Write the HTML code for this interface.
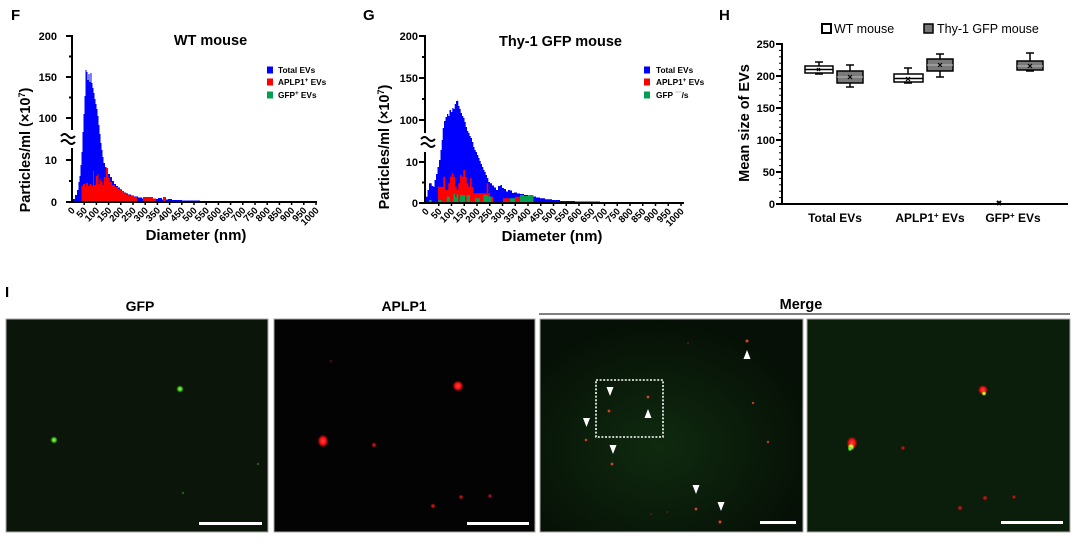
<!DOCTYPE html>
<html><head><meta charset="utf-8"><style>
html,body{margin:0;padding:0;background:#fff;}
svg{display:block;}
</style></head><body>
<svg width="1080" height="545" viewBox="0 0 1080 545" xmlns="http://www.w3.org/2000/svg" font-family="'Liberation Sans', Arial, sans-serif" font-weight="bold">
<defs>
<radialGradient id="rg"><stop offset="0" stop-color="#ff4040"/><stop offset="0.55" stop-color="#ff1010" stop-opacity="0.95"/><stop offset="1" stop-color="#ff0000" stop-opacity="0"/></radialGradient>
<radialGradient id="rgd"><stop offset="0" stop-color="#e02020"/><stop offset="0.5" stop-color="#c01010" stop-opacity="0.8"/><stop offset="1" stop-color="#a00000" stop-opacity="0"/></radialGradient>
<radialGradient id="gg"><stop offset="0" stop-color="#b0ff70"/><stop offset="0.5" stop-color="#50e020" stop-opacity="0.85"/><stop offset="1" stop-color="#20c000" stop-opacity="0"/></radialGradient>
<radialGradient id="og"><stop offset="0" stop-color="#ff8040"/><stop offset="0.5" stop-color="#e04020" stop-opacity="0.8"/><stop offset="1" stop-color="#c02000" stop-opacity="0"/></radialGradient>
<radialGradient id="yg"><stop offset="0" stop-color="#ffff60"/><stop offset="0.6" stop-color="#c0ff30" stop-opacity="0.8"/><stop offset="1" stop-color="#80ff00" stop-opacity="0"/></radialGradient>
<radialGradient id="p3c" cx="0.45" cy="0.6" r="0.6"><stop offset="0" stop-color="#0f2a0f"/><stop offset="1" stop-color="#061006"/></radialGradient>
</defs>

<!-- ================= PANEL F ================= -->
<text x="11" y="20" font-size="15">F</text>
<text x="210.5" y="45" font-size="14.5" text-anchor="middle">WT mouse</text>
<!-- histogram -->
<path fill="#0000ff" d="M73,202 V199 H75 V195 H77 V190 H78.5 V182 H79.5 V176 H80.5 V165 H81.5 V152 H82.5 V132 H83.5 V114 H84.5 V96 H85.5 V70 H86.5 V72 H87.5 V80 H88.5 V74 H89.5 V82 H90.5 V73 H91.5 V83 H92.5 V88 H93.5 V93 H94.5 V99 H95.5 V104 H96.5 V109 H97.5 V116 H98.5 V125 H99.5 V134 H100.5 V143 H101.5 V150 H102.5 V157 H103.5 V163 H105 V167 H106.5 V170 H108 V174 H110 V177 H112 V181 H114 V184 H116 V186 H118 V187.5 H120 V189.5 H122 V191 H124 V192.5 H126 V193.5 H128 V194.5 H131 V195.5 H134 V196.5 H138 V197.5 H142 V198.5 H146 V197 H150 V198.5 H154 V199 H158 V198 H162 V199.5 H168 V199 H172 V200 H182 V200.5 H200 V201 H235 V202 Z"/>
<path fill="#ff0000" d="M81.5,202 V186 H83 V184 H85 V187 H86 V183 H88 V186 H89.5 V184 H91.5 V186 H93 V171 H94 V185 H96 V176 H97.5 V174 H98.5 V184 H99.5 V180 H101 V182 H102.5 V185 H104 V177 H105.5 V181 H106 V168 H108 V178 H109.5 V182 H112 V185 H115 V187 H118 V189 H121 V191 H124 V193 H127 V195 H130 V196 H134 V197 H137 V202 Z M143,202 V197 H153 V198.5 H156 V202 Z M163,202 V197 H166 V202 Z"/>
<!-- axes -->
<g stroke="#000" stroke-width="2" fill="none">
<line x1="72" y1="35" x2="72" y2="130"/>
<line x1="72" y1="148" x2="72" y2="203"/>
<line x1="71" y1="202" x2="317" y2="202"/>
<line x1="66" y1="36" x2="72" y2="36"/>
<line x1="66" y1="77" x2="72" y2="77"/>
<line x1="66" y1="118" x2="72" y2="118"/>
<line x1="66" y1="160" x2="72" y2="160"/>
<line x1="66" y1="202" x2="72" y2="202"/>
<line x1="69" y1="56.5" x2="72" y2="56.5"/>
<line x1="69" y1="97.5" x2="72" y2="97.5"/>
<line x1="69" y1="181" x2="72" y2="181"/>
<path d="M61,136 q3.5,-4 7,0 t7,0"/>
<path d="M61,142 q3.5,-4 7,0 t7,0"/>
</g>
<g stroke="#000" stroke-width="1.5">
<line x1="84.2" y1="202" x2="84.2" y2="205"/><line x1="96.4" y1="202" x2="96.4" y2="205"/><line x1="108.6" y1="202" x2="108.6" y2="205"/><line x1="120.8" y1="202" x2="120.8" y2="205"/><line x1="133" y1="202" x2="133" y2="205"/><line x1="145.2" y1="202" x2="145.2" y2="205"/><line x1="157.4" y1="202" x2="157.4" y2="205"/><line x1="169.6" y1="202" x2="169.6" y2="205"/><line x1="181.8" y1="202" x2="181.8" y2="205"/><line x1="194" y1="202" x2="194" y2="205"/><line x1="206.2" y1="202" x2="206.2" y2="205"/><line x1="218.4" y1="202" x2="218.4" y2="205"/><line x1="230.6" y1="202" x2="230.6" y2="205"/><line x1="242.8" y1="202" x2="242.8" y2="205"/><line x1="255" y1="202" x2="255" y2="205"/><line x1="267.2" y1="202" x2="267.2" y2="205"/><line x1="279.4" y1="202" x2="279.4" y2="205"/><line x1="291.6" y1="202" x2="291.6" y2="205"/><line x1="303.8" y1="202" x2="303.8" y2="205"/><line x1="316" y1="202" x2="316" y2="205"/>
</g>
<g font-size="11" text-anchor="end">
<text x="57" y="40">200</text><text x="57" y="81">150</text><text x="57" y="122">100</text><text x="57" y="164">10</text><text x="57" y="206">0</text>
</g>
<g font-size="9.5" text-anchor="end">
<text transform="rotate(-45 75.5 211)" x="75.5" y="211">0</text>
<text transform="rotate(-45 87.7 211)" x="87.7" y="211">50</text>
<text transform="rotate(-45 99.9 211)" x="99.9" y="211">100</text>
<text transform="rotate(-45 112.1 211)" x="112.1" y="211">150</text>
<text transform="rotate(-45 124.3 211)" x="124.3" y="211">200</text>
<text transform="rotate(-45 136.5 211)" x="136.5" y="211">250</text>
<text transform="rotate(-45 148.7 211)" x="148.7" y="211">300</text>
<text transform="rotate(-45 160.9 211)" x="160.9" y="211">350</text>
<text transform="rotate(-45 173.1 211)" x="173.1" y="211">400</text>
<text transform="rotate(-45 185.3 211)" x="185.3" y="211">450</text>
<text transform="rotate(-45 197.5 211)" x="197.5" y="211">500</text>
<text transform="rotate(-45 209.7 211)" x="209.7" y="211">550</text>
<text transform="rotate(-45 221.9 211)" x="221.9" y="211">600</text>
<text transform="rotate(-45 234.1 211)" x="234.1" y="211">650</text>
<text transform="rotate(-45 246.3 211)" x="246.3" y="211">700</text>
<text transform="rotate(-45 258.5 211)" x="258.5" y="211">750</text>
<text transform="rotate(-45 270.7 211)" x="270.7" y="211">800</text>
<text transform="rotate(-45 282.9 211)" x="282.9" y="211">850</text>
<text transform="rotate(-45 295.1 211)" x="295.1" y="211">900</text>
<text transform="rotate(-45 307.3 211)" x="307.3" y="211">950</text>
<text transform="rotate(-45 319.5 211)" x="319.5" y="211">1000</text>
</g>
<text x="196" y="240" font-size="15" text-anchor="middle">Diameter (nm)</text>
<text transform="rotate(-90 30 150)" x="30" y="150" font-size="14.5" text-anchor="middle">Particles/ml (×10<tspan font-size="9" dy="-5">7</tspan><tspan dy="5">)</tspan></text>
<!-- legend F -->
<rect x="267" y="66.5" width="6" height="7" fill="#0000ff"/>
<rect x="267" y="78.5" width="6" height="7" fill="#ff0000"/>
<rect x="267" y="91.5" width="6" height="7" fill="#00a050"/>
<g font-size="8.3">
<text x="278" y="73">Total EVs</text>
<text x="278" y="85">APLP1<tspan font-size="6" dy="-3">+</tspan><tspan dy="3"> EVs</tspan></text>
<text x="278" y="98">GFP<tspan font-size="6" dy="-3">+</tspan><tspan dy="3"> EVs</tspan></text>
</g>

<!-- ================= PANEL G ================= -->
<text x="363" y="20" font-size="15">G</text>
<text x="560.5" y="46" font-size="14.5" text-anchor="middle">Thy-1 GFP mouse</text>
<path fill="#0000ff" d="M426,203 V196.7 H427.5 V190 H429 V183.3 H431.7 V186 H433.3 V186.7 H434.5 V180 H436 V174 H437.5 V167 H439 V160 H440.5 V150 H441.7 V140 H442.7 V128 H444 V121 H445.5 V117 H447 V114 H448.3 V116 H449.5 V110 H451 V112 H452.3 V108 H453.5 V109 H454.7 V104 H456 V101 H457.2 V100.7 H458.3 V106 H459.5 V109 H460.7 V113 H462 V116 H463.3 V118 H464.5 V122 H465.7 V127 H467 V131 H468.3 V133 H469.5 V136 H470.7 V138 H472 V142 H473.3 V147 H474.5 V150 H475.7 V152 H477 V155 H478.3 V158 H479.5 V161 H480.7 V164 H482 V167 H483.3 V170 H484.5 V172 H485.7 V175 H487 V178 H488.3 V182 H490 V183.3 H492 V185.5 H494 V187.5 H496 V190 H498 V186 H500.5 V185 H502 V188 H504 V189 H506 V191.5 H508 V190 H510 V190.5 H512 V193 H514 V192.5 H517 V193.5 H520 V194 H524 V195 H528 V195.5 H532 V196.5 H536 V197.5 H540 V198.3 H545 V199.3 H552 V200 H560 V201 H575 V201.5 H600 V202 H610 V203 Z"/>
<path fill="#ff0000" d="M438,203 V186.7 H443.3 V176.7 H445 V190 H448.3 V183.3 H450 V176.7 H451.7 V173.3 H453.3 V176.7 H455 V186.7 H456.7 V190 H458.3 V183.3 H460 V175 H461.7 V176.7 H463.3 V170 H465 V176.7 H466.7 V183.3 H468.3 V186.7 H470 V178.3 H471.7 V186.7 H473.3 V193.3 H480 V193.3 H486.7 V183.3 H488.3 V193.3 H490 V196.7 H493.3 V203 Z M503,203 V198.3 H510 V203 Z M515,203 V196.7 H520 V203 Z M526.7,203 V198.3 H531.7 V203 Z"/>
<path fill="#00a050" d="M429,203 V200 H431.7 V203 Z M438.3,203 V200 H441.7 V203 Z M446.7,203 V196.7 H450 V203 Z M453.3,203 V194 H455 V197 H456.7 V194 H458.3 V203 Z M460,203 V195 H465 V203 Z M466.7,203 V195 H470 V203 Z M475,203 V198.3 H480 V203 Z M483.3,203 V195 H488.3 V196.5 H491.7 V203 Z M510,203 V198.3 H515 V203 Z M520,203 V195 H524 V196 H529 V195 H533.3 V203 Z"/>
<g stroke="#000" stroke-width="2" fill="none">
<line x1="425" y1="35" x2="425" y2="133"/>
<line x1="425" y1="152" x2="425" y2="204"/>
<line x1="424" y1="203" x2="684" y2="203"/>
<line x1="419" y1="36" x2="425" y2="36"/>
<line x1="419" y1="78" x2="425" y2="78"/>
<line x1="419" y1="120" x2="425" y2="120"/>
<line x1="419" y1="162" x2="425" y2="162"/>
<line x1="419" y1="203" x2="425" y2="203"/>
<line x1="422" y1="57" x2="425" y2="57"/>
<line x1="422" y1="99" x2="425" y2="99"/>
<line x1="422" y1="182.5" x2="425" y2="182.5"/>
<path d="M421,139 q3.5,-4 7,0 t7,0"/>
<path d="M421,145 q3.5,-4 7,0 t7,0"/>
</g>
<g stroke="#000" stroke-width="1.5">
<line x1="438.75" y1="203" x2="438.75" y2="206"/><line x1="451.5" y1="203" x2="451.5" y2="206"/><line x1="464.25" y1="203" x2="464.25" y2="206"/><line x1="477" y1="203" x2="477" y2="206"/><line x1="489.75" y1="203" x2="489.75" y2="206"/><line x1="502.5" y1="203" x2="502.5" y2="206"/><line x1="515.25" y1="203" x2="515.25" y2="206"/><line x1="528" y1="203" x2="528" y2="206"/><line x1="540.75" y1="203" x2="540.75" y2="206"/><line x1="553.5" y1="203" x2="553.5" y2="206"/><line x1="566.25" y1="203" x2="566.25" y2="206"/><line x1="579" y1="203" x2="579" y2="206"/><line x1="591.75" y1="203" x2="591.75" y2="206"/><line x1="604.5" y1="203" x2="604.5" y2="206"/><line x1="617.25" y1="203" x2="617.25" y2="206"/><line x1="630" y1="203" x2="630" y2="206"/><line x1="642.75" y1="203" x2="642.75" y2="206"/><line x1="655.5" y1="203" x2="655.5" y2="206"/><line x1="668.25" y1="203" x2="668.25" y2="206"/><line x1="681" y1="203" x2="681" y2="206"/>
</g>
<g font-size="11" text-anchor="end">
<text x="418" y="40">200</text><text x="418" y="82">150</text><text x="418" y="124">100</text><text x="418" y="166">10</text><text x="418" y="207">0</text>
</g>
<g font-size="9.5" text-anchor="end">
<text transform="rotate(-45 429.5 212)" x="429.5" y="212">0</text>
<text transform="rotate(-45 442.25 212)" x="442.25" y="212">50</text>
<text transform="rotate(-45 455 212)" x="455" y="212">100</text>
<text transform="rotate(-45 467.75 212)" x="467.75" y="212">150</text>
<text transform="rotate(-45 480.5 212)" x="480.5" y="212">200</text>
<text transform="rotate(-45 493.25 212)" x="493.25" y="212">250</text>
<text transform="rotate(-45 506 212)" x="506" y="212">300</text>
<text transform="rotate(-45 518.75 212)" x="518.75" y="212">350</text>
<text transform="rotate(-45 531.5 212)" x="531.5" y="212">400</text>
<text transform="rotate(-45 544.25 212)" x="544.25" y="212">450</text>
<text transform="rotate(-45 557 212)" x="557" y="212">500</text>
<text transform="rotate(-45 569.75 212)" x="569.75" y="212">550</text>
<text transform="rotate(-45 582.5 212)" x="582.5" y="212">600</text>
<text transform="rotate(-45 595.25 212)" x="595.25" y="212">650</text>
<text transform="rotate(-45 608 212)" x="608" y="212">700</text>
<text transform="rotate(-45 620.75 212)" x="620.75" y="212">750</text>
<text transform="rotate(-45 633.5 212)" x="633.5" y="212">800</text>
<text transform="rotate(-45 646.25 212)" x="646.25" y="212">850</text>
<text transform="rotate(-45 659 212)" x="659" y="212">900</text>
<text transform="rotate(-45 671.75 212)" x="671.75" y="212">950</text>
<text transform="rotate(-45 684.5 212)" x="684.5" y="212">1000</text>
</g>
<text x="552" y="241" font-size="15" text-anchor="middle">Diameter (nm)</text>
<text transform="rotate(-90 389 147)" x="389" y="147" font-size="14.5" text-anchor="middle">Particles/ml (×10<tspan font-size="9" dy="-5">7</tspan><tspan dy="5">)</tspan></text>
<rect x="644" y="66.5" width="6" height="7" fill="#0000ff"/>
<rect x="644" y="78.5" width="6" height="7" fill="#ff0000"/>
<rect x="644" y="91.5" width="6" height="7" fill="#00a050"/>
<g font-size="8.3">
<text x="656" y="73">Total EVs</text>
<text x="656" y="85">APLP1<tspan font-size="6" dy="-3">+</tspan><tspan dy="3"> EVs</tspan></text>
<text x="656" y="98">GFP <tspan fill="#777" font-size="6" dy="-3">⁻⁻</tspan><tspan dy="3">/s</tspan></text>
</g>

<!-- ================= PANEL H ================= -->
<text x="719" y="20" font-size="15">H</text>
<rect x="822" y="24" width="9" height="9" fill="#fff" stroke="#000" stroke-width="2"/>
<text x="834" y="33" font-size="12.5" font-weight="normal">WT mouse</text>
<rect x="924" y="24" width="9" height="9" fill="#777" stroke="#000" stroke-width="1.5"/>
<text x="937" y="33" font-size="12.5" font-weight="normal">Thy-1 GFP mouse</text>
<g stroke="#000" stroke-width="2" fill="none">
<line x1="782" y1="43" x2="782" y2="205"/>
<line x1="781" y1="204" x2="1068" y2="204"/>
<line x1="776" y1="44" x2="782" y2="44"/>
<line x1="776" y1="76" x2="782" y2="76"/>
<line x1="776" y1="108" x2="782" y2="108"/>
<line x1="776" y1="140" x2="782" y2="140"/>
<line x1="776" y1="172" x2="782" y2="172"/>
<line x1="776" y1="204" x2="782" y2="204"/>
</g>
<g stroke="#000" stroke-width="1">
<line x1="779" y1="50.4" x2="782" y2="50.4"/><line x1="779" y1="56.8" x2="782" y2="56.8"/><line x1="779" y1="63.2" x2="782" y2="63.2"/><line x1="779" y1="69.6" x2="782" y2="69.6"/>
<line x1="779" y1="82.4" x2="782" y2="82.4"/><line x1="779" y1="88.8" x2="782" y2="88.8"/><line x1="779" y1="95.2" x2="782" y2="95.2"/><line x1="779" y1="101.6" x2="782" y2="101.6"/>
<line x1="779" y1="114.4" x2="782" y2="114.4"/><line x1="779" y1="120.8" x2="782" y2="120.8"/><line x1="779" y1="127.2" x2="782" y2="127.2"/><line x1="779" y1="133.6" x2="782" y2="133.6"/>
<line x1="779" y1="146.4" x2="782" y2="146.4"/><line x1="779" y1="152.8" x2="782" y2="152.8"/><line x1="779" y1="159.2" x2="782" y2="159.2"/><line x1="779" y1="165.6" x2="782" y2="165.6"/>
<line x1="779" y1="178.4" x2="782" y2="178.4"/><line x1="779" y1="184.8" x2="782" y2="184.8"/><line x1="779" y1="191.2" x2="782" y2="191.2"/><line x1="779" y1="197.6" x2="782" y2="197.6"/>
</g>
<g font-size="11" text-anchor="end">
<text x="775" y="48">250</text><text x="775" y="80">200</text><text x="775" y="112">150</text><text x="775" y="144">100</text><text x="775" y="176">50</text><text x="775" y="208">0</text>
</g>
<text transform="rotate(-90 749 123)" x="749" y="123" font-size="14.5" text-anchor="middle">Mean size of EVs</text>
<g font-size="12" text-anchor="middle">
<text x="835" y="222">Total EVs</text>
<text x="930" y="222">APLP1<tspan font-size="8" dy="-4">+</tspan><tspan dy="4"> EVs</tspan></text>
<text x="1013" y="222">GFP<tspan font-size="8" dy="-4">+</tspan><tspan dy="4"> EVs</tspan></text>
</g>
<!-- boxes -->
<g stroke="#000" stroke-width="1.5">
<!-- Total WT -->
<line x1="819" y1="62" x2="819" y2="74"/><line x1="815" y1="62" x2="823" y2="62"/><line x1="815" y1="74" x2="823" y2="74"/>
<rect x="805" y="66" width="28" height="7" fill="#fff"/>
<line x1="805" y1="69.5" x2="833" y2="69.5"/>
<!-- Total Thy -->
<line x1="850" y1="65" x2="850" y2="87"/><line x1="846" y1="65" x2="854" y2="65"/><line x1="846" y1="87" x2="854" y2="87"/>
<rect x="837" y="71" width="26" height="12" fill="#7a7a7a"/>
<line x1="837" y1="77" x2="863" y2="77" stroke="#bbb" stroke-width="1"/>
<!-- APLP1 WT -->
<line x1="908" y1="68" x2="908" y2="83"/><line x1="904" y1="68" x2="912" y2="68"/><line x1="904" y1="83" x2="912" y2="83"/>
<rect x="894" y="74" width="29" height="8" fill="#fff"/>
<line x1="894" y1="78.5" x2="923" y2="78.5"/>
<!-- APLP1 Thy -->
<line x1="940" y1="54" x2="940" y2="77"/><line x1="936" y1="54" x2="944" y2="54"/><line x1="936" y1="77" x2="944" y2="77"/>
<rect x="927" y="59" width="26" height="12" fill="#7a7a7a"/>
<line x1="927" y1="65" x2="953" y2="65" stroke="#bbb" stroke-width="1"/>
<!-- GFP Thy -->
<line x1="1030" y1="53" x2="1030" y2="71"/><line x1="1026" y1="53" x2="1034" y2="53"/><line x1="1026" y1="71" x2="1034" y2="71"/>
<rect x="1017" y="61" width="26" height="9" fill="#7a7a7a"/>
<line x1="1017" y1="66" x2="1043" y2="66" stroke="#bbb" stroke-width="1"/>
</g>
<g stroke="#000" stroke-width="1.2">
<path d="M817,68 l3,3 M820,68 l-3,3"/>
<path d="M848,75 l4,4 M852,75 l-4,4"/>
<path d="M906,77 l4,4 M910,77 l-4,4"/>
<path d="M938,63 l4,4 M942,63 l-4,4"/>
<path d="M1028,64 l4,4 M1032,64 l-4,4"/>
<path d="M997,201 l4,4 M1001,201 l-4,4" stroke-width="2"/>
</g>

<!-- ================= PANEL I ================= -->
<text x="5" y="297" font-size="15">I</text>
<text x="140" y="311" font-size="14" text-anchor="middle">GFP</text>
<text x="404" y="311" font-size="14" text-anchor="middle">APLP1</text>
<text x="801" y="309" font-size="14.5" text-anchor="middle">Merge</text>
<line x1="539" y1="314" x2="1070" y2="314" stroke="#555" stroke-width="1.5"/>

<!-- P1 GFP -->
<rect x="6" y="319" width="262" height="213" fill="#0b150a" stroke="#aaa" stroke-width="1"/>
<circle cx="180" cy="389" r="3.8" fill="url(#gg)"/>
<circle cx="54" cy="440" r="3.8" fill="url(#gg)"/>
<circle cx="258" cy="464" r="1.2" fill="#2a5a1a"/>
<circle cx="183" cy="493" r="1.2" fill="#2a5a1a"/>
<rect x="199" y="522" width="63" height="3" fill="#fff"/>

<!-- P2 APLP1 -->
<rect x="274" y="319" width="261" height="213" fill="#030303" stroke="#aaa" stroke-width="1"/>
<circle cx="458" cy="386" r="5.5" fill="url(#rg)"/>
<ellipse cx="323" cy="441" rx="5.5" ry="6.5" fill="url(#rg)"/>
<circle cx="374" cy="445" r="2.8" fill="url(#rgd)"/>
<circle cx="461" cy="497" r="2.5" fill="url(#rgd)"/>
<circle cx="490" cy="496" r="2.2" fill="url(#rgd)"/>
<circle cx="433" cy="506" r="2.8" fill="url(#rgd)"/>
<circle cx="331" cy="361" r="1.5" fill="#400808"/>
<rect x="467" y="522" width="62" height="3" fill="#fff"/>

<!-- P3 Merge -->
<rect x="540" y="319" width="263" height="213" fill="url(#p3c)" stroke="#aaa" stroke-width="1"/>
<g>
<circle cx="747" cy="341" r="2.2" fill="url(#og)"/>
<circle cx="609" cy="411" r="2" fill="url(#og)"/>
<circle cx="648" cy="397" r="2" fill="url(#og)"/>
<circle cx="586" cy="440" r="1.8" fill="url(#og)"/>
<circle cx="612" cy="464" r="2" fill="url(#og)"/>
<circle cx="753" cy="403" r="1.6" fill="url(#og)"/>
<circle cx="768" cy="442" r="1.6" fill="url(#og)"/>
<circle cx="696" cy="509" r="2" fill="url(#og)"/>
<circle cx="720" cy="522" r="2.2" fill="url(#og)"/>
<circle cx="688" cy="343" r="1" fill="#502010"/>
<circle cx="667" cy="512" r="1" fill="#502010"/>
<circle cx="651" cy="514" r="1" fill="#502010"/>
</g>
<rect x="596" y="380" width="67" height="57" fill="none" stroke="#fff" stroke-width="1.6" stroke-dasharray="2 1.6"/>
<g fill="#fff">
<polygon points="606.5,387 613.5,387 610,396"/>
<polygon points="583,418 590,418 586.5,427"/>
<polygon points="609.5,445 616.5,445 613,454"/>
<polygon points="692.5,485 699.5,485 696,494"/>
<polygon points="717.5,502 724.5,502 721,511"/>
<polygon points="743.5,359 750.5,359 747,350"/>
<polygon points="644.5,418 651.5,418 648,409"/>
</g>
<rect x="760" y="521" width="36" height="3" fill="#fff"/>

<!-- P4 zoomed merge -->
<rect x="807" y="319" width="263" height="213" fill="#0b1d0b" stroke="#aaa" stroke-width="1"/>
<circle cx="983" cy="390" r="5" fill="url(#rg)"/>
<circle cx="984" cy="393.5" r="2.4" fill="url(#yg)"/>
<ellipse cx="852" cy="443" rx="5.5" ry="6.5" fill="url(#rg)"/>
<ellipse cx="851" cy="447" rx="3.5" ry="3.5" fill="url(#yg)"/>
<ellipse cx="850" cy="449" rx="2.5" ry="2.5" fill="url(#gg)"/>
<circle cx="903" cy="448" r="2.5" fill="url(#rgd)"/>
<circle cx="985" cy="498" r="2.8" fill="url(#rgd)"/>
<circle cx="1014" cy="497" r="2.3" fill="url(#rgd)"/>
<circle cx="960" cy="508" r="2.8" fill="url(#rgd)"/>
<rect x="1001" y="521" width="62" height="3" fill="#fff"/>
</svg>
</body></html>
